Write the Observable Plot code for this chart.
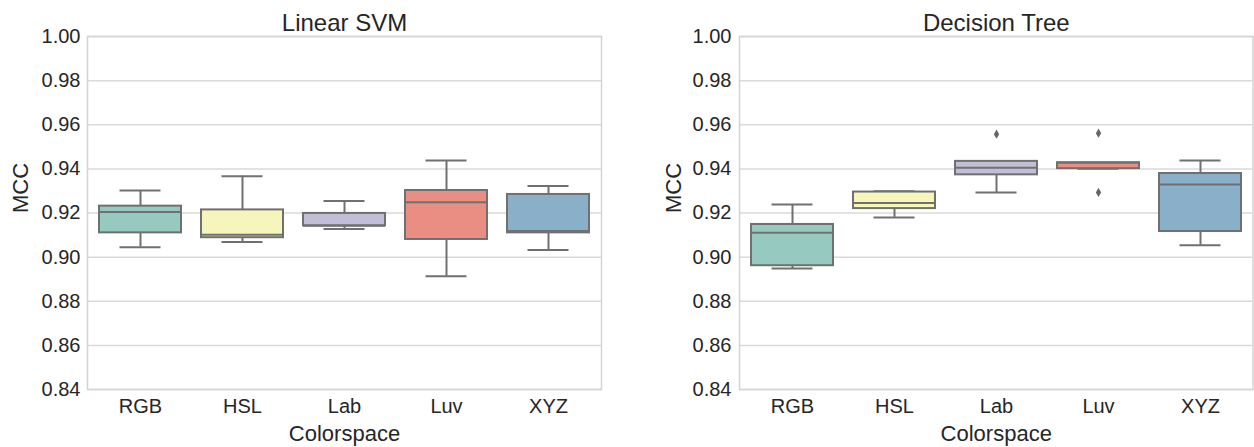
<!DOCTYPE html>
<html><head><meta charset="utf-8">
<script src="https://cdn.jsdelivr.net/npm/d3@7"></script>
<script src="https://cdn.jsdelivr.net/npm/@observablehq/plot@0.6"></script>
<style>
body{margin:0;background:#fff;}
#wrap{display:flex;width:1254px;height:447px;overflow:hidden;}
</style>
</head><body><div id="wrap"></div>
<script>
const categories = ["RGB", "HSL", "Lab", "Luv", "XYZ"];
const colors = ["#96cac1", "#f6f6bc", "#c1bed6", "#ea8e83", "#8aafc8"];
const yTicks = [0.84, 0.86, 0.88, 0.90, 0.92, 0.94, 0.96, 0.98, 1.00];

// Linear SVM (box summary)
const svmLow    = [0.9045, 0.9068, 0.9128, 0.8913, 0.9032];
const svmQ1     = [0.9110, 0.9088, 0.9142, 0.9080, 0.9110];
const svmMedian = [0.9205, 0.9101, 0.9142, 0.9249, 0.9118];
const svmQ3     = [0.9231, 0.9214, 0.9198, 0.9302, 0.9284];
const svmHigh   = [0.9302, 0.9367, 0.9254, 0.9438, 0.9322];
const svmOutlierCats = [];
const svmOutlierVals = [];

// Decision Tree
const dtLow    = [0.8948, 0.9180, 0.9293, 0.9401, 0.9054];
const dtQ1     = [0.8961, 0.9220, 0.9373, 0.9401, 0.9116];
const dtMedian = [0.9110, 0.9245, 0.9405, 0.9428, 0.9329];
const dtQ3     = [0.9148, 0.9295, 0.9434, 0.9428, 0.9379];
const dtHigh   = [0.9239, 0.9299, 0.9434, 0.9428, 0.9438];
const dtOutlierCats = ["Lab", "Luv", "Luv"];
const dtOutlierVals = [0.9557, 0.9562, 0.9293];

const titles = ["Linear SVM", "Decision Tree"];
const xLabel = "Colorspace";
const yLabel = "MCC";

const gray = "#707070";
const textColor = "#262626";

function panel(title, low, q1, med, q3, high, oCats, oVals, marginLeft, marginRight, tickPad, labelDx) {
  const rows = categories.map((c, i) => ({cat: c, low: low[i], q1: q1[i], med: med[i], q3: q3[i], high: high[i]}));
  const outs = oCats.map((c, i) => ({cat: c, value: oVals[i]}));
  return Plot.plot({
    width: 627,
    height: 447,
    marginLeft, marginRight,
    marginTop: 36,
    marginBottom: 58,
    style: {fontFamily: "'Liberation Sans', Arial, sans-serif", fontSize: "20px", color: textColor, background: "white"},
    x: {type: "band", domain: categories, paddingInner: 0.2, paddingOuter: 0.1},
    y: {domain: [0.84, 1.00]},
    color: {type: "ordinal", domain: categories, range: colors},
    marks: [
      Plot.gridY(yTicks, {stroke: "#dadada", strokeOpacity: 1, strokeWidth: 1.5}),
      Plot.frame({stroke: "#d4d4d4", strokeWidth: 1.5}),
      Plot.axisY({ticks: yTicks, tickFormat: d3.format(".2f"), tickSize: 0, tickPadding: tickPad, label: null, fontSize: 20}),
      Plot.axisX({tickSize: 0, tickPadding: 9, label: null, fontSize: 20}),
      Plot.ruleX(rows, {x: "cat", y1: "low", y2: "high", stroke: gray, strokeWidth: 2}),
      Plot.tickY(rows, {x: "cat", y: "low", stroke: gray, strokeWidth: 2, insetLeft: 20.5, insetRight: 20.5}),
      Plot.tickY(rows, {x: "cat", y: "high", stroke: gray, strokeWidth: 2, insetLeft: 20.5, insetRight: 20.5}),
      Plot.barY(rows, {x: "cat", y1: "q1", y2: "q3", fill: "cat", stroke: gray, strokeWidth: 2}),
      Plot.tickY(rows, {x: "cat", y: "med", stroke: gray, strokeWidth: 2}),
      Plot.dot(outs, {x: "cat", y: "value", symbol: "diamond", r: 2.8, fill: "#666", stroke: "none"}),
      Plot.text([title], {frameAnchor: "top", dy: -6, lineAnchor: "bottom", fontSize: 24, fill: textColor}),
      Plot.text([xLabel], {frameAnchor: "bottom", dy: 51, lineAnchor: "bottom", fontSize: 22, fill: textColor}),
      Plot.text([yLabel], {frameAnchor: "left", dx: labelDx, rotate: -90, fontSize: 22, fill: textColor})
    ]
  });
}

const wrap = document.getElementById("wrap");
wrap.appendChild(panel(titles[0], svmLow, svmQ1, svmMedian, svmQ3, svmHigh, svmOutlierCats, svmOutlierVals, 87, 26, 7, -67));
wrap.appendChild(panel(titles[1], dtLow, dtQ1, dtMedian, dtQ3, dtHigh, dtOutlierCats, dtOutlierVals, 112, 1.5, 8, -66));
</script>
</body></html>
